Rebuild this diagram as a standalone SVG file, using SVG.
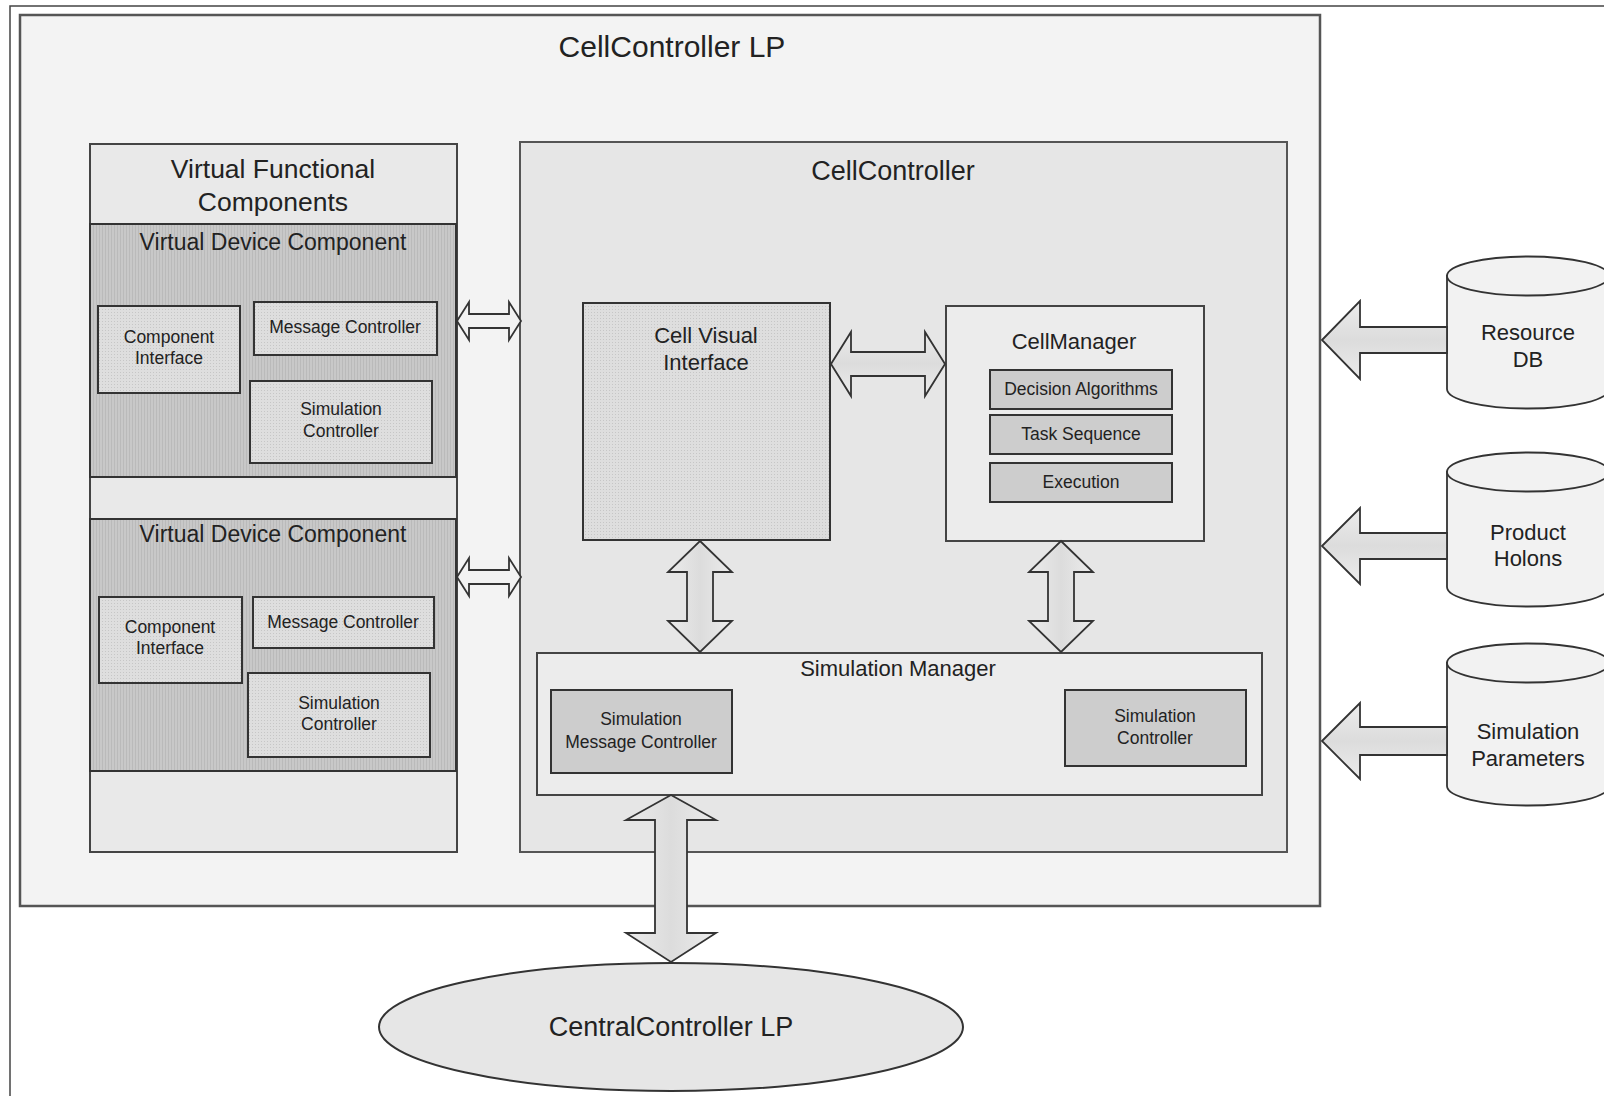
<svg xmlns="http://www.w3.org/2000/svg" width="1604" height="1096" viewBox="0 0 1604 1096">
  <defs>
    <!-- fine vertical hatch used for device components -->
    <pattern id="hatch" width="3" height="3" patternUnits="userSpaceOnUse">
      <rect width="3" height="3" fill="#c8c8c8"/>
      <rect width="1" height="3" fill="#bababa"/>
    </pattern>
    <!-- dotted fill used for sub-modules -->
    <pattern id="dots" width="3" height="3" patternUnits="userSpaceOnUse">
      <rect width="3" height="3" fill="#dedede"/>
      <rect width="1" height="1" fill="#c6c6c6"/>
    </pattern>
    <linearGradient id="arrowFill" x1="0" y1="0" x2="0" y2="1">
      <stop offset="0" stop-color="#ececec"/>
      <stop offset="0.5" stop-color="#dcdcdc"/>
      <stop offset="1" stop-color="#ececec"/>
    </linearGradient>
    <linearGradient id="arrowFillV" x1="0" y1="0" x2="1" y2="0">
      <stop offset="0" stop-color="#ececec"/>
      <stop offset="0.5" stop-color="#dcdcdc"/>
      <stop offset="1" stop-color="#ececec"/>
    </linearGradient>
  </defs>
  <style>
    text { font-family: "Liberation Sans", Arial, sans-serif; fill: #222; text-anchor: middle; }
    .frame { fill: none; stroke: #444; stroke-width: 1.5; }
    .lp { fill: #f3f3f3; stroke: #555; stroke-width: 2.5; }
    .container { fill: #e6e6e6; stroke: #555; stroke-width: 2; }
    .light { fill: #ececec; stroke: #444; stroke-width: 2; }
    .device { fill: url(#hatch); stroke: #333; stroke-width: 2; }
    .module { fill: url(#dots); stroke: #333; stroke-width: 2; }
    .solid { fill: #cdcdcd; stroke: #333; stroke-width: 2; }
    .db { fill: #f2f2f2; stroke: #333; stroke-width: 1.8; }
    .arrow { fill: url(#arrowFill); stroke: #333; stroke-width: 1.8; stroke-linejoin: miter; }
    .arrowV { fill: url(#arrowFillV); stroke: #333; stroke-width: 1.8; }
    .thin { fill: #f2f2f2; stroke: #333; stroke-width: 1.8; }
    .t30 { font-size: 30px; }
    .t27 { font-size: 27px; }
    .t26 { font-size: 26.5px; }
    .t23 { font-size: 23px; }
    .t22 { font-size: 22px; }
    .t18 { font-size: 17.5px; }
  </style>

  <rect width="1604" height="1096" fill="#ffffff"/>
  <!-- page frame -->
  <path class="frame" d="M10,1096 L10,6 L1604,6"/>

  <!-- logical process container -->
  <g id="cellcontroller-lp">
    <rect class="lp" x="20" y="15" width="1300" height="891"/>
    <text class="t30" x="672" y="57">CellController LP</text>
  </g>

  <!-- virtual functional components -->
  <g id="virtual-functional-components">
    <rect class="light" x="90" y="144" width="367" height="708" style="fill:#e9e9e9"/>
    <line x1="90" y1="224" x2="457" y2="224" stroke="#444" stroke-width="2"/>
    <text class="t26" x="273" y="178">Virtual Functional</text>
    <text class="t26" x="273" y="211">Components</text>
  </g>

  <g id="virtual-device-component-1">
    <rect class="device" x="90" y="224" width="366" height="253"/>
    <text class="t23" x="273" y="250">Virtual Device Component</text>
    <g id="component-interface-1">
      <rect class="module" x="98" y="306" width="142" height="87"/>
      <text class="t18" x="169" y="343">Component</text>
      <text class="t18" x="169" y="364">Interface</text>
    </g>
    <g id="message-controller-1">
      <rect class="module" x="254" y="302" width="183" height="53"/>
      <text class="t18" x="345" y="333">Message Controller</text>
    </g>
    <g id="simulation-controller-1">
      <rect class="module" x="250" y="381" width="182" height="82"/>
      <text class="t18" x="341" y="415">Simulation</text>
      <text class="t18" x="341" y="437">Controller</text>
    </g>
  </g>

  <g id="virtual-device-component-2">
    <rect class="device" x="90" y="519" width="366" height="252"/>
    <text class="t23" x="273" y="542">Virtual Device Component</text>
    <g id="component-interface-2">
      <rect class="module" x="99" y="597" width="143" height="86"/>
      <text class="t18" x="170" y="633">Component</text>
      <text class="t18" x="170" y="654">Interface</text>
    </g>
    <g id="message-controller-2">
      <rect class="module" x="253" y="597" width="181" height="51"/>
      <text class="t18" x="343" y="628">Message Controller</text>
    </g>
    <g id="simulation-controller-2">
      <rect class="module" x="248" y="673" width="182" height="84"/>
      <text class="t18" x="339" y="709">Simulation</text>
      <text class="t18" x="339" y="730">Controller</text>
    </g>
  </g>

  <!-- cell controller -->
  <g id="cellcontroller">
    <rect class="container" x="520" y="142" width="767" height="710"/>
    <text class="t27" x="893" y="180">CellController</text>
  </g>

  <g id="cell-visual-interface">
    <rect class="module" x="583" y="303" width="247" height="237"/>
    <text class="t22" x="706" y="343">Cell Visual</text>
    <text class="t22" x="706" y="370">Interface</text>
  </g>

  <g id="cellmanager">
    <rect class="light" x="946" y="306" width="258" height="235"/>
    <text class="t22" x="1074" y="349">CellManager</text>
    <g id="decision-algorithms">
      <rect class="solid" x="990" y="370" width="182" height="39"/>
      <text class="t18" x="1081" y="395">Decision Algorithms</text>
    </g>
    <g id="task-sequence">
      <rect class="solid" x="990" y="415" width="182" height="39"/>
      <text class="t18" x="1081" y="440">Task Sequence</text>
    </g>
    <g id="execution">
      <rect class="solid" x="990" y="463" width="182" height="39"/>
      <text class="t18" x="1081" y="488">Execution</text>
    </g>
  </g>

  <g id="simulation-manager">
    <rect class="light" x="537" y="653" width="725" height="142"/>
    <text class="t22" x="898" y="676">Simulation Manager</text>
    <g id="simulation-message-controller">
      <rect class="solid" x="551" y="690" width="181" height="83"/>
      <text class="t18" x="641" y="725">Simulation</text>
      <text class="t18" x="641" y="748">Message Controller</text>
    </g>
    <g id="simulation-controller">
      <rect class="solid" x="1065" y="690" width="181" height="76"/>
      <text class="t18" x="1155" y="722">Simulation</text>
      <text class="t18" x="1155" y="744">Controller</text>
    </g>
  </g>

  <!-- data stores -->
  <g id="resource-db">
    <path class="db" d="M1447,276 L1447,389 A81,19.5 0 0,0 1609,389 L1609,276 Z"/>
    <ellipse class="db" cx="1528" cy="276" rx="81" ry="19.5"/>
    <text class="t22" x="1528" y="340">Resource</text>
    <text class="t22" x="1528" y="367">DB</text>
  </g>
  <g id="product-holons">
    <path class="db" d="M1447,472 L1447,587 A81,19.5 0 0,0 1609,587 L1609,472 Z"/>
    <ellipse class="db" cx="1528" cy="472" rx="81" ry="19.5"/>
    <text class="t22" x="1528" y="540">Product</text>
    <text class="t22" x="1528" y="566">Holons</text>
  </g>
  <g id="simulation-parameters">
    <path class="db" d="M1447,663 L1447,786 A81,19.5 0 0,0 1609,786 L1609,663 Z"/>
    <ellipse class="db" cx="1528" cy="663" rx="81" ry="19.5"/>
    <text class="t22" x="1528" y="739">Simulation</text>
    <text class="t22" x="1528" y="766">Parameters</text>
  </g>

  <!-- central controller -->
  <g id="centralcontroller-lp">
    <ellipse cx="671" cy="1027" rx="292" ry="64" fill="#e6e6e6" stroke="#333" stroke-width="2"/>
    <text class="t27" x="671" y="1036">CentralController LP</text>
  </g>

  <!-- block arrows -->
  <g id="connectors">
    <!-- device components <-> cell controller -->
    <polygon class="thin" points="457,321 469,302 469,314 509,314 509,302 521,321 509,340 509,328 469,328 469,340"/>
    <polygon class="thin" points="457,577 469,558 469,570 509,570 509,558 521,577 509,596 509,584 469,584 469,596"/>
    <!-- cell visual interface <-> cellmanager -->
    <polygon class="arrow" points="831,364 851,332 851,352 925,352 925,332 945,364 925,396 925,376 851,376 851,396"/>
    <!-- vertical links to the simulation manager -->
    <polygon class="arrowV" points="700,541 732,572 713,572 713,621 732,621 700,652 668,621 687,621 687,572 668,572"/>
    <polygon class="arrowV" points="1061,541 1093,572 1074,572 1074,621 1093,621 1061,652 1029,621 1048,621 1048,572 1029,572"/>
    <!-- simulation manager <-> central controller -->
    <polygon class="arrowV" points="671,795 716,820 687,820 687,933 716,933 671,962 626,933 655,933 655,820 626,820"/>
    <!-- data stores -> cell controller LP -->
    <polygon class="arrow" points="1322,340 1360,301 1360,327 1447,327 1447,353 1360,353 1360,379"/>
    <polygon class="arrow" points="1322,546 1360,508 1360,533 1447,533 1447,559 1360,559 1360,584"/>
    <polygon class="arrow" points="1322,741 1360,703 1360,727 1447,727 1447,755 1360,755 1360,779"/>
  </g>
</svg>
